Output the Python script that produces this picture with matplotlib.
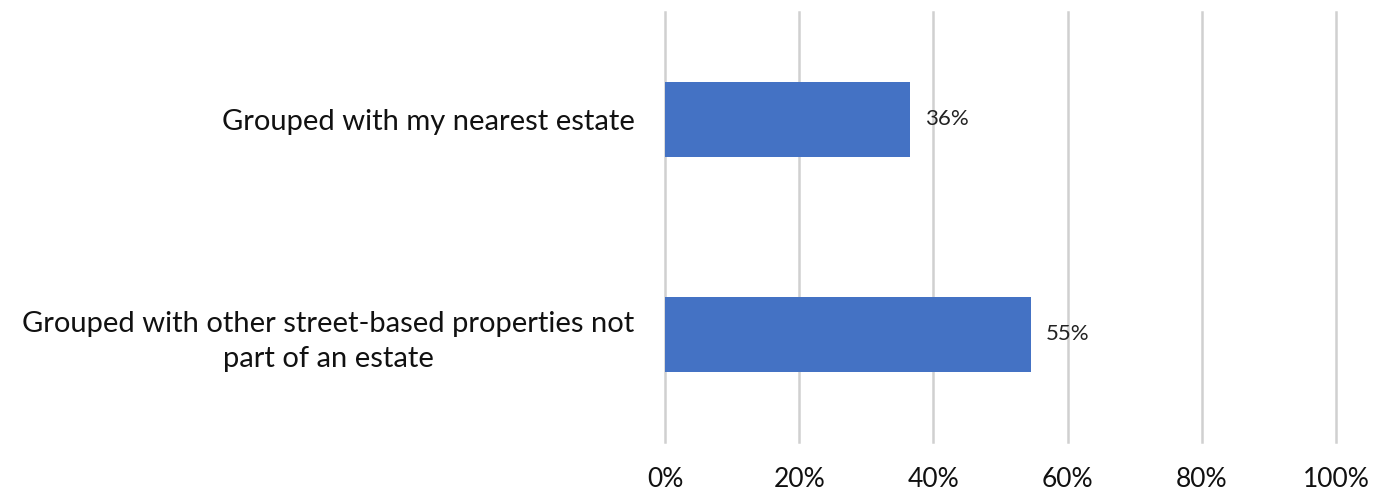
import matplotlib.pyplot as plt

categories = ["Grouped with my nearest estate",
              "Grouped with other street-based properties not\npart of an estate"]
values = [36.5, 54.5]
labels = ["36%", "55%"]
xticks = [0, 20, 40, 60, 80, 100]

plt.rcParams['font.family'] = ['Lato', 'DejaVu Sans']

fig = plt.figure(figsize=(13.76, 4.95), dpi=100)
ax = fig.add_axes([665 / 1376, 1 - 442 / 495, (1336 - 665) / 1376, 430 / 495])

ypos = list(range(len(categories)))
ax.barh(ypos, values, height=0.35, color='#4472C4', zorder=3)
for y, v, lab in zip(ypos, values, labels):
    ax.text(v + 2.2, y, lab, va='center', ha='left', fontsize=16, color='#222222')

ax.set_xlim(0, 100)
ax.set_ylim(1.5, -0.5)
ax.set_yticks(ypos)
ax.set_yticklabels(categories, fontsize=21, multialignment='center',
                   linespacing=1.45, color='#111111')
ax.set_xticks(xticks)
ax.set_xticklabels([f"{t}%" for t in xticks], fontsize=19, color='#111111')
ax.tick_params(axis='x', length=0, pad=18)
ax.tick_params(axis='y', length=0, pad=22)
ax.grid(axis='x', color='#d0d0d0', linewidth=1.8, zorder=0)
for gl in ax.get_xgridlines():
    gl.set_clip_on(False)
for s in ax.spines.values():
    s.set_visible(False)

fig.savefig('out.png', dpi=100)
